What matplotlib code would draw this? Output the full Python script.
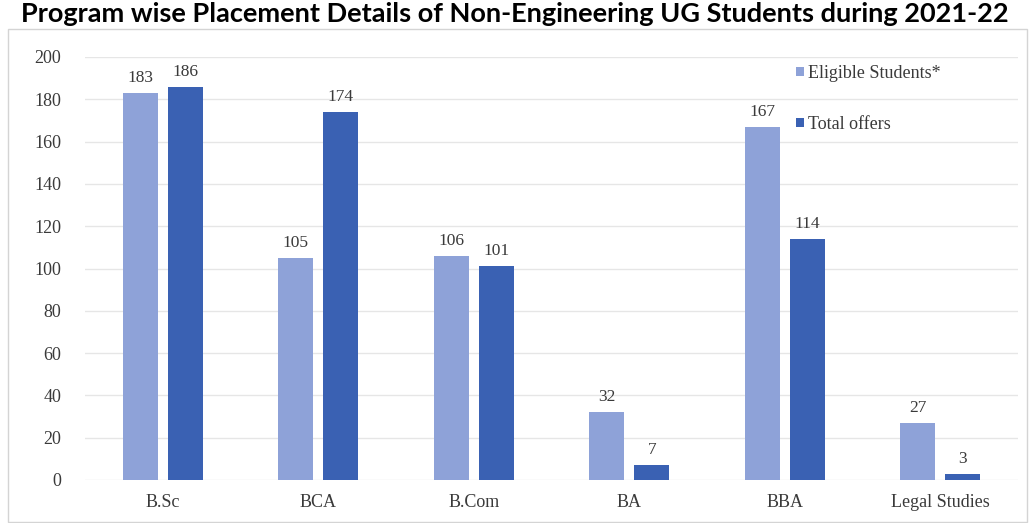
import numpy as np
import matplotlib.pyplot as plt
from matplotlib.patches import Rectangle

programs = ["B.Sc", "BCA", "B.Com", "BA", "BBA", "Legal Studies"]
eligible = [183, 105, 106, 32, 167, 27]
offers = [186, 174, 101, 7, 114, 3]

light = "#8ea2d8"
dark = "#3a61b3"
txt = "#3a3a3a"
serif = ["Liberation Serif", "DejaVu Serif"]

W, H = 1029, 523
fig = plt.figure(figsize=(W / 100, H / 100), dpi=100)

# faint frame round the chart
fig.patches.append(Rectangle((8 / W, 1 / H), 1 - 10 / W, 1 - 30 / H, transform=fig.transFigure,
                             fill=False, edgecolor="#d4d4d4", linewidth=1))

fig.text(0.5, 1 - 2 / H, "Program wise Placement Details of Non-Engineering UG Students during 2021-22",
         ha="center", va="top", fontsize=19.5, fontweight="bold", family="Lato", color="black")

ax = fig.add_axes([85 / W, 1 - 480 / H, (1018 - 85) / W, (480 - 57) / H])

x = np.arange(len(programs))
bw = 0.225
off = 0.145
b1 = ax.bar(x - off, eligible, bw, color=light, label="Eligible Students*")
b2 = ax.bar(x + off, offers, bw, color=dark, label="Total offers")

for bars in (b1, b2):
    for b in bars:
        ax.annotate(str(int(b.get_height())), (b.get_x() + b.get_width() / 2, b.get_height()),
                    xytext=(0, 5), textcoords="offset points", ha="center", va="bottom",
                    fontsize=12.5, family=serif, color=txt)

ax.set_xlim(-0.5, len(programs) - 0.5)
ax.set_ylim(0, 200)
ax.set_yticks(range(0, 201, 20))
ax.set_xticks(x)
ax.set_xticklabels(programs)
for lab in ax.get_xticklabels() + ax.get_yticklabels():
    lab.set_family(serif)
    lab.set_fontsize(13)
    lab.set_color(txt)
ax.tick_params(length=0)
ax.tick_params(axis="x", pad=10)
ax.tick_params(axis="y", pad=17)
ax.grid(axis="y", color="#e6e6e6", linewidth=1)
ax.set_axisbelow(True)
for s in ax.spines.values():
    s.set_visible(False)

leg = ax.legend(loc="upper left", bbox_to_anchor=(0.745, 1.02), frameon=False,
                prop={"family": serif, "size": 13}, handlelength=0.4, handleheight=0.4,
                handletextpad=0.25, labelspacing=1.9)
for t in leg.get_texts():
    t.set_color(txt)

fig.savefig("out.png", dpi=100)
